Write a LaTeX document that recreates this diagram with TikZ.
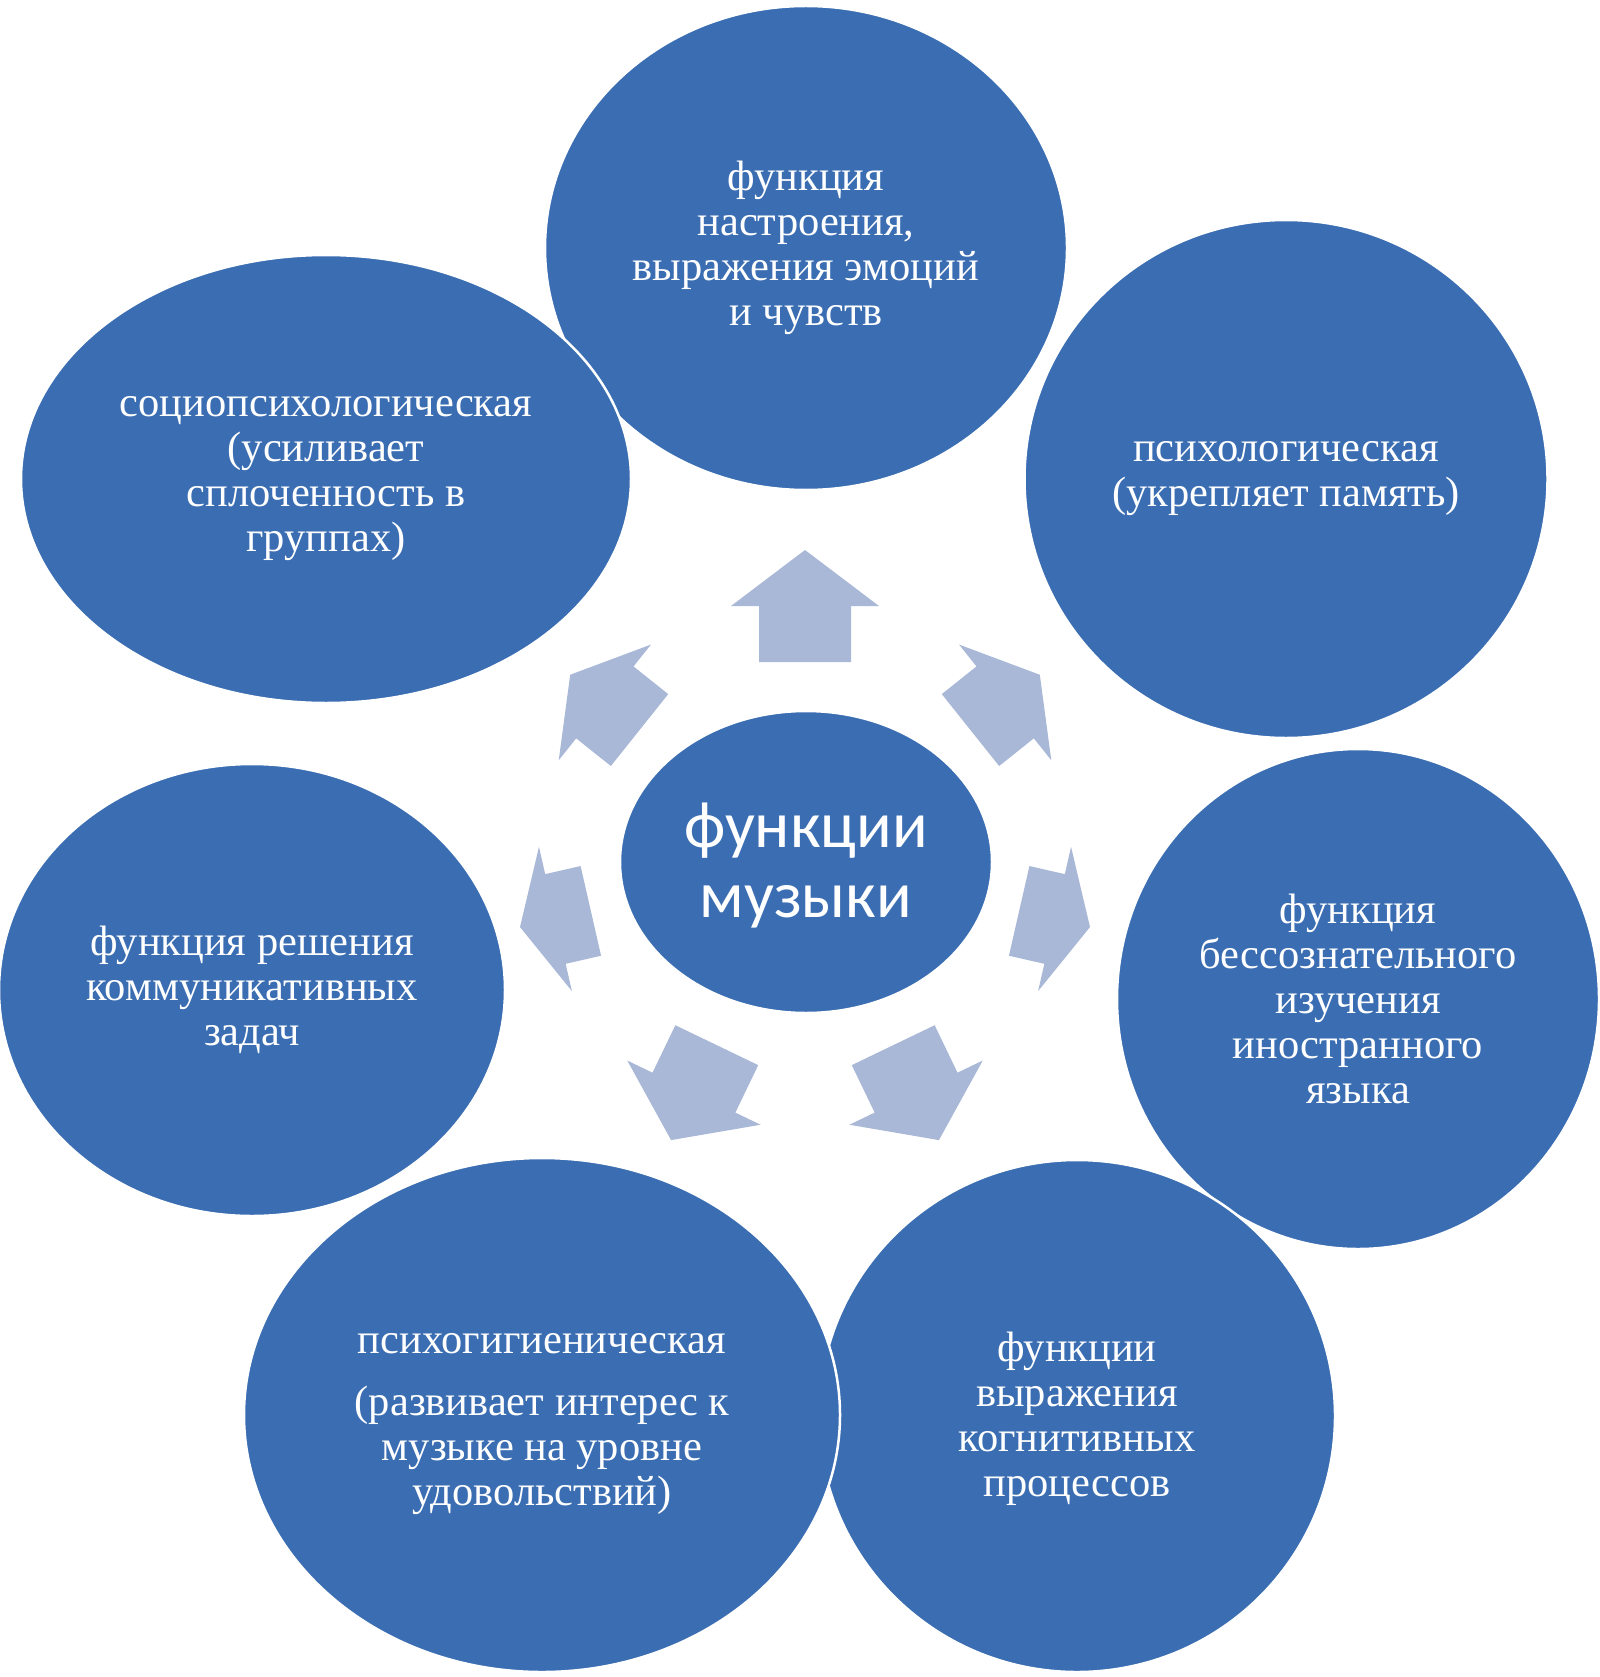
\documentclass[tikz,border=0pt]{standalone}
\usepackage{fontspec}
\setmainfont{Liberation Serif}
\newfontfamily\centerfont{Carlito}
\usetikzlibrary{shapes.geometric}
\definecolor{bubblecol}{HTML}{3A6DB2}
\definecolor{arrowcol}{HTML}{A9B8D7}
\begin{document}
\begin{tikzpicture}[x=1pt,y=-1pt,
  bubble/.style={ellipse, fill=bubblecol, draw=white, line width=2.5pt, inner sep=0pt},
  btext/.style={text=white, align=center, inner sep=0pt, font=\fontsize{42.5}{45}\selectfont},
  ctext/.style={text=white, align=center, inner sep=0pt, font=\centerfont\fontsize{66}{70}\selectfont}]
\useasboundingbox (0,0) rectangle (1599,1677);
% outer bubbles in drawing order
\node[bubble, minimum width=522, minimum height=484] (top) at (806,248) {};
\node[bubble, minimum width=523, minimum height=518] (ur) at (1286,479) {};
\node[bubble, minimum width=482, minimum height=500] (rm) at (1358,999) {};
\node[bubble, minimum width=516, minimum height=512] (br) at (1077,1416) {};
\node[bubble, minimum width=596, minimum height=514] (bl) at (542,1415) {};
\node[bubble, minimum width=506, minimum height=452] (lm) at (252,990) {};
\node[bubble, minimum width=610, minimum height=448] (ul) at (326,479) {};
\node[bubble, minimum width=372, minimum height=302] (ctr) at (806,862) {};
% texts
\node[btext] (ttop) at (top) {функция\\настроения,\\выражения эмоций\\и чувств};
\node[btext] (tur) at (ur) {психологическая\\(укрепляет память)};
\node[btext] (trm) at (rm) {функция\\бессознательного\\изучения\\иностранного\\языка};
\node[btext] (tbr) at ([yshift=-3pt]br.center) {функции\\выражения\\когнитивных\\процессов};
\node[btext] (tbl) at ([yshift=-9pt]bl.center) {психогигиеническая\\[17pt](развивает интерес к\\музыке на уровне\\удовольствий)};
\node[btext] (tlm) at (lm) {функция решения\\коммуникативных\\задач};
\node[btext] (tul) at (ul) {социопсихологическая\\(усиливает\\сплоченность в\\группах)};
\node[ctext] (tctr) at ([yshift=-4pt]ctr.center) {функции\\музыки};
% block arrows
\foreach \a in {90,38.571,-12.857,-64.286,-115.714,-167.143,141.429}{
  \pgfmathsetmacro\arrhalf{0.5*sqrt((70*cos(\a))^2+(112*sin(\a))^2)}
  \fill[arrowcol, shift={({805+256*cos(\a)},{862-256*sin(\a)})}, rotate=\a]
    (-\arrhalf,-46) -- (0,-46) -- (0,-74) -- (\arrhalf,0) -- (0,74) -- (0,46) -- (-\arrhalf,46) -- cycle;
}
\end{tikzpicture}
\end{document}
